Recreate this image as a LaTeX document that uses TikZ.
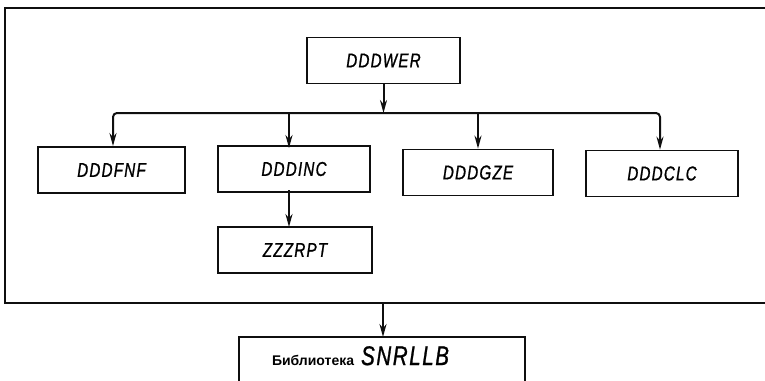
\documentclass[tikz,border=0pt]{standalone}
\usepackage{fontspec}
\usetikzlibrary{arrows.meta}
\newfontfamily\progfont[FakeStretch=0.76,LetterSpace=6,FakeBold=1]{Liberation Sans}
\newfontfamily\cyrfont{Liberation Sans}
\definecolor{inkcolor}{RGB}{15,15,15}
\definecolor{paperbg}{RGB}{255,255,255}
\tikzset{
  modbox/.style={draw=inkcolor, line width=1.8pt, minimum width=#1, minimum height=46pt,
    inner sep=0pt, font=\progfont\itshape\fontsize{20}{20}\selectfont},
  modbox/.default=152pt,
  flowline/.style={draw=inkcolor, line width=2pt},
  flowarrow/.style={flowline, -{Stealth[length=13pt,width=7pt]}},
  frameline/.style={draw=inkcolor, line width=2.8pt}
}

\begin{document}
\begin{tikzpicture}[x=1pt, y=-1pt]

% 1. CANVAS
\clip (0,0) rectangle (765,380);
\fill[paperbg] (0,0) rectangle (765,380);

% 2. PROGRAM FRAME (open on the right)
\draw[frameline] (765,8) -- (5,8) -- (5,303) -- (765,303);

% 3. MODULES
\node[modbox=153pt] (wer) at (383.5,60.5) {DDDWER};
\node[modbox=147pt] (fnf) at (111.5,170) {DDDFNF};
\node[modbox=152pt] (inc) at (294,169) {DDDINC};
\node[modbox=150pt] (gze) at (478,172.5) {DDDGZE};
\node[modbox=152pt] (clc) at (662,173.5) {DDDCLC};
\node[modbox=154pt] (rpt) at (295,250) {ZZZRPT};

% 4. CALL BUS
\coordinate (busL) at (113,113);
\coordinate (busR) at (660,113);
\draw[flowarrow] (wer.south) -- (wer.south |- busL);
\draw[flowline, {Stealth[length=13pt,width=7pt]}-{Stealth[length=13pt,width=7pt]}, rounded corners=4pt]
  (busL |- fnf.north) -- (busL) -- (busR) -- (busR |- clc.north);
\draw[flowarrow] (289,113) -- (289,148);
\draw[flowarrow] (gze.north |- busL) -- (gze.north);
\draw[flowarrow] (289,190) -- (289,227);

% 5. LIBRARY
\coordinate (frameB) at (383,303);
\node[anchor=north, text width=220pt, inner xsep=33pt, inner ysep=9pt, align=left]
  (lib) at (382,337) {{\cyrfont\bfseries\fontsize{14}{14}\selectfont Библиотека}\hspace{7pt}{\progfont\itshape\fontsize{27}{27}\selectfont SNRLLB}};
\draw[flowline] (lib.north west |- 0,395) -- (lib.north west) -- (lib.north east) -- (lib.north east |- 0,395);
\draw[flowarrow] (frameB) -- (frameB |- lib.north);

\end{tikzpicture}
\end{document}
